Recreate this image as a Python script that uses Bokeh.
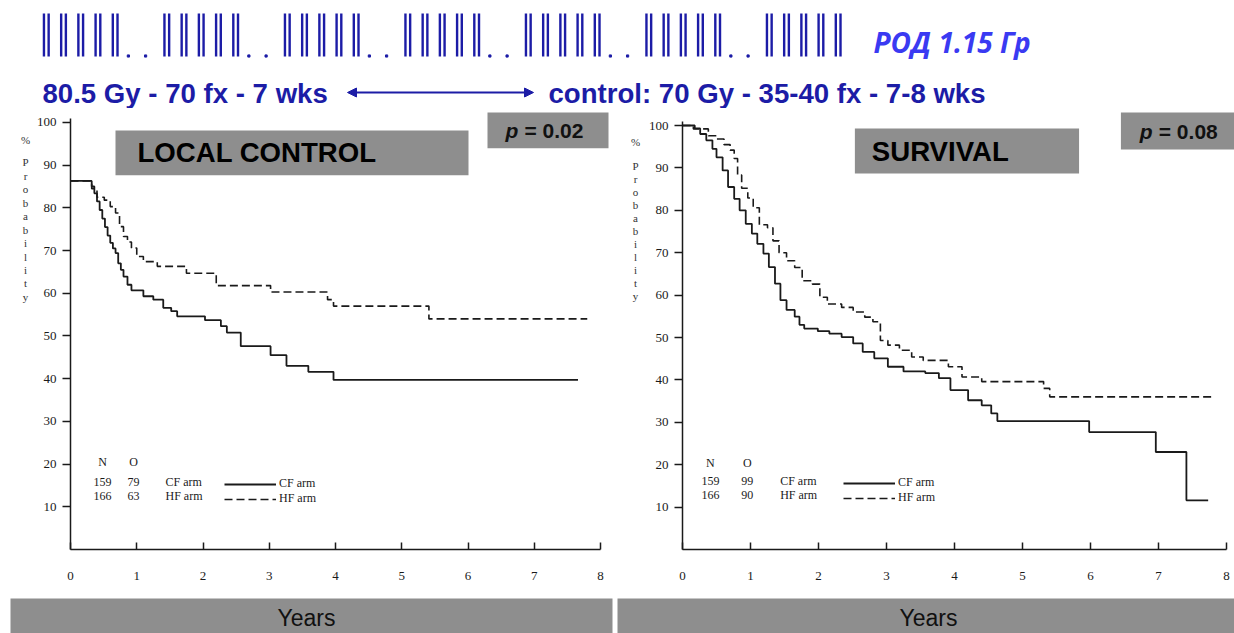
from bokeh.plotting import figure
from bokeh.layouts import column, row
from bokeh.models import Range1d, Arrow, NormalHead, Legend, LegendItem, FixedTicker
from bokeh.core.properties import value
from bokeh.embed import file_html
from bokeh.resources import INLINE

# ---------------- data ----------------
n_weeks = 7
fractions_per_day = [2, 2, 2, 2, 2, 0, 0]   # Mon..Sun, 2 fractions per day, weekend off

x_ticks = [0, 1, 2, 3, 4, 5, 6, 7, 8]
y_ticks = [10, 20, 30, 40, 50, 60, 70, 80, 90, 100]
arms = ["CF arm", "HF arm"]

lc_n = [159, 166]
lc_o = [79, 63]
os_n = [159, 166]
os_o = [99, 90]

# Local control (Kaplan-Meier, value holds from the given year)
lc_cf_years = [0, 0.32, 0.36, 0.40, 0.44, 0.48, 0.52, 0.56, 0.60, 0.64, 0.68, 0.72, 0.76, 0.80,
               0.86, 0.92, 1.10, 1.25, 1.40, 1.52, 1.61, 2.03, 2.27, 2.36, 2.57, 3.02, 3.26, 3.59,
               3.97, 7.66]
lc_cf_pct = [86.3, 85.0, 83.4, 81.5, 79.5, 77.5, 75.5, 73.5, 71.8, 70.5, 69.4, 67.0, 65.5, 63.9,
             62.0, 60.7, 59.3, 58.5, 56.6, 55.8, 54.6, 53.7, 52.3, 50.8, 47.6, 45.5, 43.0, 41.6,
             39.7, 39.7]
lc_hf_years = [0, 0.32, 0.40, 0.51, 0.60, 0.68, 0.74, 0.80, 0.86, 0.92, 1.00, 1.10, 1.31, 1.75,
               2.20, 3.02, 3.88, 3.97, 5.41, 7.80]
lc_hf_pct = [86.3, 84.5, 82.5, 81.8, 80.3, 78.8, 75.6, 73.3, 72.0, 70.6, 68.6, 67.4, 66.3, 64.7,
             61.8, 60.3, 58.5, 57.0, 54.0, 54.0]

# Survival
os_cf_years = [0, 0.18, 0.26, 0.35, 0.44, 0.50, 0.59, 0.67, 0.76, 0.84, 0.93, 1.02, 1.10, 1.19,
               1.27, 1.36, 1.44, 1.53, 1.65, 1.72, 1.79, 1.99, 2.16, 2.34, 2.51, 2.65, 2.82, 3.02,
               3.25, 3.57, 3.77, 3.94, 4.20, 4.40, 4.54, 4.63, 5.98, 6.96, 7.41, 7.73]
os_cf_pct = [100, 99.3, 98.0, 96.5, 94.5, 92.5, 89.4, 85.5, 82.7, 80.0, 76.8, 74.5, 72.1, 69.8,
             66.6, 62.7, 58.8, 56.5, 54.9, 53.0, 52.1, 51.5, 50.9, 50.1, 48.6, 46.6, 45.1, 43.1,
             42.0, 41.6, 40.4, 37.6, 35.2, 34.0, 32.1, 30.3, 27.7, 23.0, 11.6, 11.6]
os_hf_years = [0, 0.16, 0.38, 0.50, 0.61, 0.70, 0.76, 0.81, 0.87, 0.96, 1.04, 1.13, 1.25, 1.33,
               1.42, 1.53, 1.65, 1.76, 1.91, 2.02, 2.13, 2.34, 2.51, 2.68, 2.80, 2.91, 3.02, 3.19,
               3.37, 3.54, 3.91, 4.11, 4.40, 5.31, 5.40, 7.81]
os_hf_pct = [100, 99.2, 97.6, 96.8, 95.5, 94.2, 92.2, 88.3, 85.2, 82.9, 80.6, 76.6, 75.9, 72.8,
             70.0, 68.1, 66.5, 63.4, 62.6, 59.5, 57.9, 57.1, 56.0, 54.8, 53.7, 49.3, 48.2, 47.0,
             45.4, 44.6, 43.1, 40.7, 39.6, 38.0, 36.0, 36.0]

prob_letters = ["%", "P", "r", "o", "b", "a", "b", "i", "l", "i", "t", "y"]

# ---------------- styles ----------------
W = 1234
BLUE = "#1c1ca6"
BLUE2 = "#3a3af2"
GRAY = "#8e8e8e"
INK = "#1a1a1a"
SERIF = "Liberation Serif"
SANS = "Liberation Sans"

# ---------------- header ----------------
hdr = figure(width=W, height=108, x_range=Range1d(0, W), y_range=Range1d(108, 0),
             x_axis_type=None, y_axis_type=None, min_border=0,
             output_backend="svg", toolbar_location=None)
hdr.grid.visible = False
hdr.outline_line_color = None
DAY0_PX = 45.8
DAY_PX = 120.5 / 7
hdr.extra_x_ranges = {"days": Range1d((0 - DAY0_PX) / DAY_PX, (W - DAY0_PX) / DAY_PX)}

bar_x, dot_x = [], []
for w in range(n_weeks):
    for d, nf in enumerate(fractions_per_day):
        day = w * 7 + d
        if nf == 2:
            bar_x += [day - 2.35 / DAY_PX, day + 2.35 / DAY_PX]
        elif nf == 0 and w < n_weeks - 1:
            dot_x.append(day - 4.0 / DAY_PX)
hdr.segment(x0=bar_x, x1=bar_x, y0=13, y1=56, line_width=2.4, line_color=BLUE, x_range_name="days")
hdr.scatter(x=dot_x, y=55.5, marker="square", size=2.2, color=BLUE, x_range_name="days")

hdr.text(x=[873], y=[41], text=["РОД 1.15 Гр"], text_font=value("Open Sans"),
         text_font_style="bold italic", text_font_size="28px", text_color=BLUE2,
         text_baseline="middle", text_align="left")
hdr.text(x=[42, 548], y=[93, 93], text=["80.5 Gy - 70 fx - 7 wks", "control: 70 Gy - 35-40 fx - 7-8 wks"],
         text_font=value(SANS), text_font_style="bold", text_font_size="27.6px", text_color=BLUE,
         text_baseline="middle", text_align="left")
hdr.add_layout(Arrow(start=NormalHead(size=9, fill_color=BLUE, line_color=BLUE),
                     end=NormalHead(size=9, fill_color=BLUE, line_color=BLUE),
                     x_start=347, y_start=92, x_end=533, y_end=92,
                     line_color=BLUE, line_width=2))


def letters_fig(x0, x1, cx, y_pct, y0, step):
    f = figure(width=x1 - x0, height=490, x_range=Range1d(x0, x1), y_range=Range1d(598, 108),
               x_axis_type=None, y_axis_type=None, min_border=0,
               output_backend="svg", toolbar_location=None)
    f.grid.visible = False
    f.outline_line_color = None
    ys = [y_pct] + [y0 + i * step for i in range(len(prob_letters) - 1)]
    f.text(x=[cx] * len(prob_letters), y=ys, text=prob_letters, text_font=value(SERIF),
           text_font_size="11px", text_color="#333", text_align="center", text_baseline="middle")
    return f


def km_plot(geom, cf, hf, n_vals, o_vals, title, title_box, pval, pbox, ptext_x, legend_geom):
    width, bl, br, bt, bb, X0, SX, Y0, SY = geom
    fw = width - bl - br
    fh = 490 - bt - bb
    p = figure(width=width, height=490, x_range=Range1d(0, fw / SX), y_range=Range1d(0, fh / SY),
               min_border_left=bl, min_border_right=br, min_border_top=bt, min_border_bottom=bb,
               output_backend="svg", toolbar_location=None)
    p.grid.visible = False
    p.outline_line_color = None
    p.background_fill_color = "white"

    def fx(px):
        return (px - X0) / SX

    def fy(py):
        return (Y0 - py) / SY

    for ax in (p.xaxis, p.yaxis):
        ax.axis_line_color = INK
        ax.axis_line_width = 1.5
        ax.major_tick_line_color = INK
        ax.major_tick_line_width = 1.5
        ax.minor_tick_line_color = None
        ax.major_label_text_font = SERIF
        ax.major_label_text_font_size = "13px"
        ax.major_label_text_color = INK
    p.xaxis.ticker = FixedTicker(ticks=x_ticks)
    p.xaxis.bounds = (0, 8)
    p.xaxis.major_tick_in = 7
    p.xaxis.major_tick_out = 0
    p.xaxis.major_label_standoff = 22
    p.yaxis.ticker = FixedTicker(ticks=y_ticks)
    p.yaxis.bounds = (0, 101)
    p.yaxis.major_tick_in = 0
    p.yaxis.major_tick_out = 8
    p.yaxis.major_label_standoff = 6

    r_cf = p.step(x=cf[0], y=cf[1], mode="after", line_color=INK, line_width=1.8)
    r_hf = p.step(x=hf[0], y=hf[1], mode="after", line_color=INK, line_width=1.6, line_dash="8 4")

    # title box
    l, r, t, b, tx = title_box
    p.quad(left=fx(l), right=fx(r), top=fy(t), bottom=fy(b), fill_color=GRAY, line_color=None)
    p.text(x=[fx(tx)], y=[fy((t + b) / 2)], text=[title], text_font=value(SANS), text_font_style="bold",
           text_font_size="27.6px", text_color="black", text_baseline="middle", text_align="left")
    # p-value box
    l, r, t, b = pbox
    p.quad(left=fx(l), right=fx(r), top=fy(t), bottom=fy(b), fill_color=GRAY, line_color=None)
    p.text(x=[fx(ptext_x)], y=[fy((t + b) / 2)], text=["p"], text_font=value(SANS),
           text_font_style="bold italic", text_font_size="21px", text_color="#111",
           text_baseline="middle", text_align="left")
    p.text(x=[fx(ptext_x + 19)], y=[fy((t + b) / 2)], text=["= " + pval], text_font=value(SANS),
           text_font_style="bold", text_font_size="21px", text_color="#111",
           text_baseline="middle", text_align="left")

    # legend block
    lx_n, lx_o, lx_arm, ly_head, ly_rows, leg_loc = legend_geom
    p.text(x=[fx(lx_n), fx(lx_o)], y=[fy(ly_head)] * 2, text=["N", "O"], text_font=value(SERIF),
           text_font_size="12px", text_color=INK, text_align="center", text_baseline="middle")
    p.text(x=[fx(lx_n)] * 2, y=[fy(v) for v in ly_rows], text=[str(v) for v in n_vals],
           text_font=value(SERIF), text_font_size="12px", text_color=INK, text_align="center",
           text_baseline="middle")
    p.text(x=[fx(lx_o)] * 2, y=[fy(v) for v in ly_rows], text=[str(v) for v in o_vals],
           text_font=value(SERIF), text_font_size="12px", text_color=INK, text_align="center",
           text_baseline="middle")
    p.text(x=[fx(lx_arm)] * 2, y=[fy(v) for v in ly_rows], text=arms,
           text_font=value(SERIF), text_font_size="12px", text_color=INK, text_align="left",
           text_baseline="middle")
    leg = Legend(items=[LegendItem(label=arms[0], renderers=[r_cf]),
                        LegendItem(label=arms[1], renderers=[r_hf])],
                 location=leg_loc, orientation="vertical", glyph_width=52, glyph_height=14,
                 label_height=14, label_width=10, spacing=0, padding=0, margin=0, label_standoff=3,
                 label_text_font=SERIF, label_text_font_size="12px", label_text_color=INK,
                 background_fill_alpha=0, border_line_alpha=0)
    p.add_layout(leg)
    return p


letL = letters_fig(0, 32, 25, 141, 166, 15.0)
left = km_plot((585, 38, 7, 2, 47, 70, 66.25, 551, 4.29),
               (lc_cf_years, lc_cf_pct), (lc_hf_years, lc_hf_pct), lc_n, lc_o,
               "LOCAL CONTROL", (115, 468, 130, 175, 137), "0.02", (487, 608, 112, 148), 505,
               (102, 133, 165, 463, [483, 497], (154, 43)))
letR = letters_fig(617, 645, 635, 143, 170, 14.5)
right = km_plot((589, 35, 0, 2, 49, 680, 68.25, 549, 4.24),
                (os_cf_years, os_cf_pct), (os_hf_years, os_hf_pct), os_n, os_o,
                "SURVIVAL", (853, 1078, 128, 173, 870), "0.08", (1120, 1234, 112, 149), 1139,
                (708, 745, 778, 462, [480, 494], (161, 44)))


# ---------------- "Years" bars ----------------
def years_bar(x0, x1, bl, br, cx):
    f = figure(width=617, height=35, x_range=Range1d(x0 + bl, x1 - br), y_range=Range1d(633, 598),
               x_axis_type=None, y_axis_type=None, min_border=0, min_border_left=bl,
               min_border_right=br, output_backend="svg", toolbar_location=None)
    f.grid.visible = False
    f.outline_line_color = None
    f.background_fill_color = GRAY
    f.border_fill_color = "white"
    f.text(x=[cx], y=[617], text=["Years"], text_font=value(SANS), text_font_size="23px",
           text_color="#111", text_align="center", text_baseline="middle")
    return f


yl = years_bar(0, 617, 10, 5, 306)
yr = years_bar(617, 1234, 0, 0, 928)

layout = column(hdr, row(letL, left, letR, right), row(yl, yr))
open("out.html", "w").write(file_html(layout, INLINE))
